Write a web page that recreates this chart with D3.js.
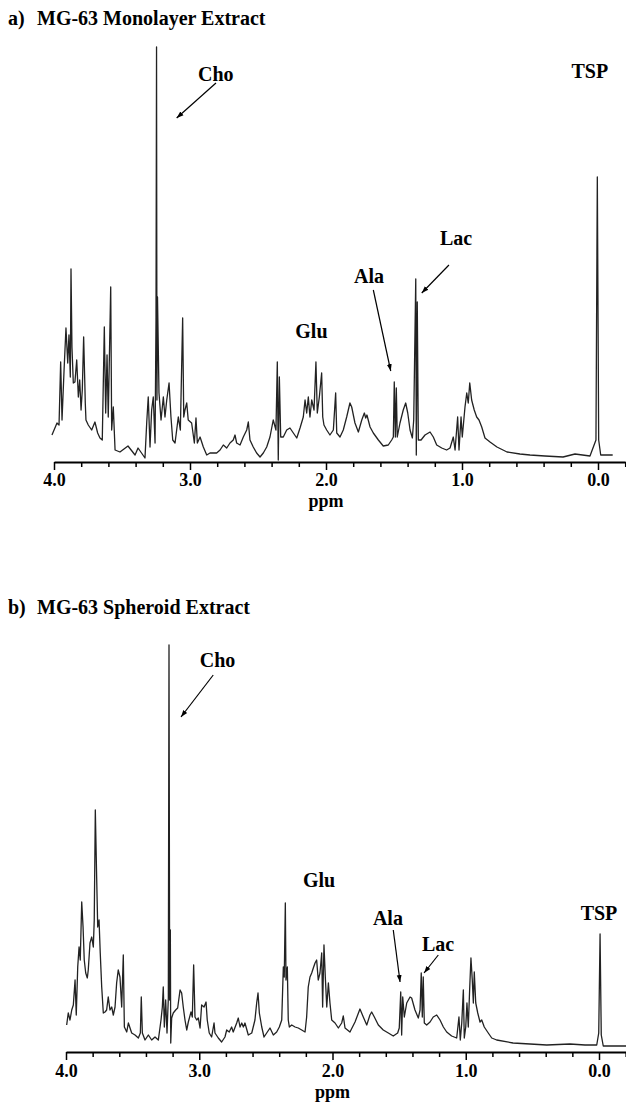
<!DOCTYPE html>
<html>
<head>
<meta charset="utf-8">
<script src="https://cdn.jsdelivr.net/npm/d3@7/dist/d3.min.js"></script>
<style>
body{margin:0;background:#fff;}
text{font-family:"Liberation Serif","Times New Roman",serif;font-weight:bold;fill:#000;}
</style>
</head>
<body>
<svg id="svg_canvas" width="626" height="1104"></svg>
<script>

// spectra: [ppm, intensity]
var monolayer_spectrum=[
[4.015,25],[3.978,37],[3.963,35],[3.951,98],[3.941,40],[3.926,90],[3.912,132],[3.899,97],[3.890,125],[3.880,83],
[3.875,191],[3.868,113],[3.858,77],[3.846,78],[3.833,100],[3.821,63],[3.811,80],[3.801,50],[3.792,70],[3.782,123],
[3.774,80],[3.770,57],[3.765,40],[3.748,35],[3.723,30],[3.699,38],[3.679,27],[3.662,22],[3.645,20],[3.630,133],
[3.620,47],[3.610,105],[3.601,43],[3.583,173],[3.576,30],[3.564,53],[3.551,10],[3.515,8],[3.456,14],[3.404,5],
[3.382,12],[3.331,2],[3.318,38],[3.307,63],[3.294,13],[3.282,50],[3.270,63],[3.257,17],[3.250,140],[3.246,413],
[3.243,60],[3.239,163],[3.228,67],[3.213,40],[3.196,63],[3.184,43],[3.171,60],[3.154,77],[3.140,43],[3.127,20],
[3.110,17],[3.098,30],[3.086,43],[3.071,30],[3.054,142],[3.046,43],[3.037,50],[3.024,57],[3.013,40],[2.988,37],
[2.968,17],[2.956,42],[2.946,17],[2.926,23],[2.902,13],[2.877,5],[2.853,7],[2.804,7],[2.779,10],[2.755,15],
[2.730,12],[2.706,17],[2.682,20],[2.669,25],[2.657,17],[2.632,15],[2.608,23],[2.583,30],[2.571,38],[2.559,20],
[2.535,13],[2.510,7],[2.485,3],[2.461,7],[2.436,13],[2.412,23],[2.388,40],[2.368,30],[2.358,98],[2.351,0],
[2.343,83],[2.333,23],[2.314,23],[2.289,30],[2.265,32],[2.240,27],[2.215,22],[2.191,32],[2.167,43],[2.154,60],
[2.142,47],[2.130,63],[2.118,43],[2.105,60],[2.088,50],[2.074,98],[2.064,47],[2.049,63],[2.032,87],[2.024,43],
[2.015,35],[1.995,30],[1.971,25],[1.946,30],[1.929,67],[1.921,27],[1.897,23],[1.873,30],[1.848,43],[1.824,57],
[1.811,53],[1.787,37],[1.762,28],[1.737,40],[1.718,47],[1.708,42],[1.699,45],[1.676,33],[1.652,27],[1.615,20],
[1.579,14],[1.542,15],[1.517,20],[1.505,23],[1.498,78],[1.490,23],[1.483,72],[1.476,23],[1.456,37],[1.432,50],
[1.414,57],[1.399,47],[1.382,30],[1.365,22],[1.355,40],[1.340,181],[1.336,5],[1.329,158],[1.321,20],[1.301,20],
[1.272,25],[1.235,28],[1.211,23],[1.186,15],[1.149,12],[1.113,10],[1.088,12],[1.064,23],[1.051,10],[1.032,43],
[1.022,10],[1.007,43],[0.998,23],[0.978,53],[0.965,67],[0.954,57],[0.943,77],[0.929,60],[0.910,50],[0.892,43],
[0.875,40],[0.855,33],[0.831,22],[0.794,18],[0.743,13],[0.669,8],[0.574,6],[0.500,5],[0.390,4],[0.257,3],
[0.169,6],[0.059,4],[0.015,20],[0.005,283],[-0.005,20],[-0.020,5],[-0.108,5]
];

var spheroid_spectrum=[
[3.995,25],[3.983,37],[3.970,30],[3.957,40],[3.945,45],[3.932,70],[3.923,35],[3.912,83],[3.902,103],[3.893,90],
[3.882,148],[3.872,123],[3.863,90],[3.852,77],[3.840,72],[3.833,80],[3.820,107],[3.807,113],[3.795,103],[3.788,130],
[3.780,240],[3.770,173],[3.762,123],[3.752,130],[3.743,97],[3.732,63],[3.720,37],[3.707,38],[3.695,40],[3.683,53],
[3.670,40],[3.657,43],[3.645,35],[3.632,43],[3.620,67],[3.608,80],[3.595,73],[3.582,43],[3.570,95],[3.562,23],
[3.544,18],[3.532,27],[3.507,17],[3.482,15],[3.457,12],[3.442,17],[3.435,53],[3.427,17],[3.407,10],[3.382,15],
[3.357,10],[3.332,13],[3.307,10],[3.287,30],[3.277,43],[3.270,63],[3.262,23],[3.252,50],[3.242,17],[3.232,52],
[3.227,405],[3.222,50],[3.217,120],[3.214,7],[3.207,32],[3.195,37],[3.177,40],[3.162,42],[3.144,60],[3.132,57],
[3.120,43],[3.107,30],[3.094,20],[3.082,28],[3.062,38],[3.052,33],[3.042,85],[3.032,33],[3.019,30],[3.007,32],
[2.994,22],[2.982,45],[2.964,43],[2.949,48],[2.940,30],[2.925,17],[2.907,13],[2.889,27],[2.882,17],[2.857,12],
[2.832,8],[2.807,13],[2.794,20],[2.775,18],[2.757,23],[2.745,18],[2.719,27],[2.707,32],[2.694,23],[2.681,27],
[2.669,23],[2.657,27],[2.632,15],[2.606,17],[2.582,30],[2.569,47],[2.559,57],[2.549,37],[2.531,23],[2.514,13],
[2.494,17],[2.469,22],[2.444,15],[2.419,18],[2.399,23],[2.381,30],[2.369,83],[2.362,73],[2.354,147],[2.349,70],
[2.339,83],[2.332,30],[2.324,23],[2.306,25],[2.281,23],[2.257,22],[2.231,20],[2.206,18],[2.194,33],[2.182,63],
[2.169,73],[2.156,77],[2.144,82],[2.131,87],[2.119,90],[2.107,70],[2.094,77],[2.081,97],[2.074,43],[2.064,105],
[2.054,73],[2.043,43],[2.031,67],[2.019,47],[2.006,30],[1.981,27],[1.956,22],[1.931,27],[1.919,34],[1.906,22],
[1.869,18],[1.831,28],[1.794,41],[1.769,33],[1.743,25],[1.719,35],[1.706,38],[1.686,33],[1.656,25],[1.619,20],
[1.581,17],[1.544,14],[1.511,17],[1.499,22],[1.488,58],[1.481,15],[1.473,53],[1.461,33],[1.443,47],[1.418,53],
[1.406,52],[1.381,40],[1.356,32],[1.343,40],[1.334,77],[1.326,33],[1.319,73],[1.311,27],[1.293,25],[1.268,28],
[1.244,33],[1.218,35],[1.193,30],[1.168,23],[1.143,18],[1.106,14],[1.068,12],[1.051,33],[1.041,10],[1.030,27],
[1.018,60],[1.011,12],[1.000,23],[0.991,47],[0.981,23],[0.970,63],[0.961,92],[0.951,70],[0.943,47],[0.936,78],
[0.925,47],[0.910,37],[0.893,28],[0.880,30],[0.861,23],[0.831,17],[0.805,12],[0.768,10],[0.645,7],[0.518,6],
[0.392,5],[0.218,6],[0.105,5],[0.017,5],[0.002,17],[-0.008,116],[-0.017,15],[-0.032,4],[-0.203,4]
];

var major_ticks=[4.0,3.0,2.0,1.0,0.0];
var minor_ticks=[3.8,3.6,3.4,3.2,2.8,2.6,2.4,2.2,1.8,1.6,1.4,1.2,0.8,0.6,0.4,0.2,-0.2];

var panel_titles=["a)","b)"];
var panel_names=["MG-63 Monolayer Extract","MG-63 Spheroid Extract"];

// peak labels [name, ppm, intensity]
var monolayer_labels=[["Cho",2.81,379],["Glu",2.107,122],["Ala",1.684,177],["Lac",1.044,215],["TSP",0.06,382]];
var spheroid_labels=[["Cho",2.863,383],["Glu",2.101,163],["Ala",1.584,125],["Lac",1.208,99],["TSP",0.0,130]];

// arrows [from ppm, from int, to ppm, to int]
var monolayer_arrows=[[2.809,377,3.098,342],[1.652,170,1.524,89],[1.096,195,1.296,167]];
var spheroid_arrows=[[2.895,375,3.137,333],[1.544,120,1.493,68],[1.206,95,1.313,77]];


function start(){

	var svg=d3.select("#svg_canvas");

	svg.append("defs").append("marker")
		.attr("id","to_arrow")
		.attr("viewBox","0 0 10 10")
		.attr("refX",10)
		.attr("refY",5)
		.attr("markerUnits","userSpaceOnUse")
		.attr("markerWidth",7)
		.attr("markerHeight",7)
		.attr("orient","auto")
		.append("path")
			.attr("d","M0,1.5L10,5L0,8.5Z")
			.attr("fill","#000");

	print_panel(svg,0,monolayer_spectrum,monolayer_labels,monolayer_arrows,
		{left:54, ppm_px:136, base:460, axis_y:462, title_y:25, pad:3, ppm_y:507});
	print_panel(svg,1,spheroid_spectrum,spheroid_labels,spheroid_arrows,
		{left:66, ppm_px:133.25, base:1050, axis_y:1052, title_y:614, pad:4.5, ppm_y:1098});
}


function print_panel(svg,n,spectrum,labels,arrows,geom){

	var x=d3.scaleLinear().domain([4,-0.2]).range([geom.left, geom.left+4.2*geom.ppm_px]);
	var y=d3.scaleLinear().domain([0,420]).range([geom.base, geom.base-420]);

	var g=svg.append("g").attr("class","panel_"+n);

	//title
	g.append("text").attr("x",8).attr("y",geom.title_y).style("font-size","20px").text(panel_titles[n]);
	g.append("text").attr("x",37).attr("y",geom.title_y).style("font-size","20px").text(panel_names[n]);

	var line=d3.line().x(function(d){return x(d[0]);}).y(function(d){return y(d[1]);});

	g.append("path")
		.datum(spectrum)
		.attr("d",line)
		.attr("fill","none")
		.attr("stroke","#222")
		.attr("stroke-width",1.3)
		.attr("stroke-linejoin","round");

	//minor ticks first, no labels
	var minor=g.append("g")
		.attr("transform","translate(0,"+geom.axis_y+")")
		.call(d3.axisBottom(x).tickValues(minor_ticks).tickSize(5).tickSizeOuter(0).tickFormat(""));
	minor.select(".domain").remove();
	minor.selectAll("line").attr("stroke","#000").attr("stroke-width",1.5);

	var major=g.append("g")
		.attr("transform","translate(0,"+geom.axis_y+")")
		.call(d3.axisBottom(x).tickValues(major_ticks).tickSize(8).tickSizeOuter(0).tickPadding(geom.pad).tickFormat(d3.format(".1f")));
	major.select(".domain").attr("stroke","#000").attr("stroke-width",2);
	major.selectAll("line").attr("stroke","#000").attr("stroke-width",1.5);
	major.selectAll("text")
		.attr("fill","#000")
		.style("font-family","'Liberation Serif','Times New Roman',serif")
		.style("font-weight","bold")
		.style("font-size","18px");

	g.append("text")
		.attr("x",x(2.0))
		.attr("y",geom.ppm_y)
		.attr("text-anchor","middle")
		.style("font-size","18px")
		.text("ppm");

	g.selectAll(".peak_label").data(labels)
		.enter().append("text")
			.attr("class","peak_label")
			.attr("x",function(d){return x(d[1]);})
			.attr("y",function(d){return y(d[2]);})
			.attr("text-anchor","middle")
			.style("font-size","20px")
			.text(function(d){return d[0];});

	g.selectAll(".peak_arrow").data(arrows)
		.enter().append("line")
			.attr("class","peak_arrow")
			.attr("x1",function(d){return x(d[0]);})
			.attr("y1",function(d){return y(d[1]);})
			.attr("x2",function(d){return x(d[2]);})
			.attr("y2",function(d){return y(d[3]);})
			.attr("stroke","#000")
			.attr("stroke-width",1.2)
			.attr("marker-end","url(#to_arrow)");
}

start();

</script>
</body>
</html>
